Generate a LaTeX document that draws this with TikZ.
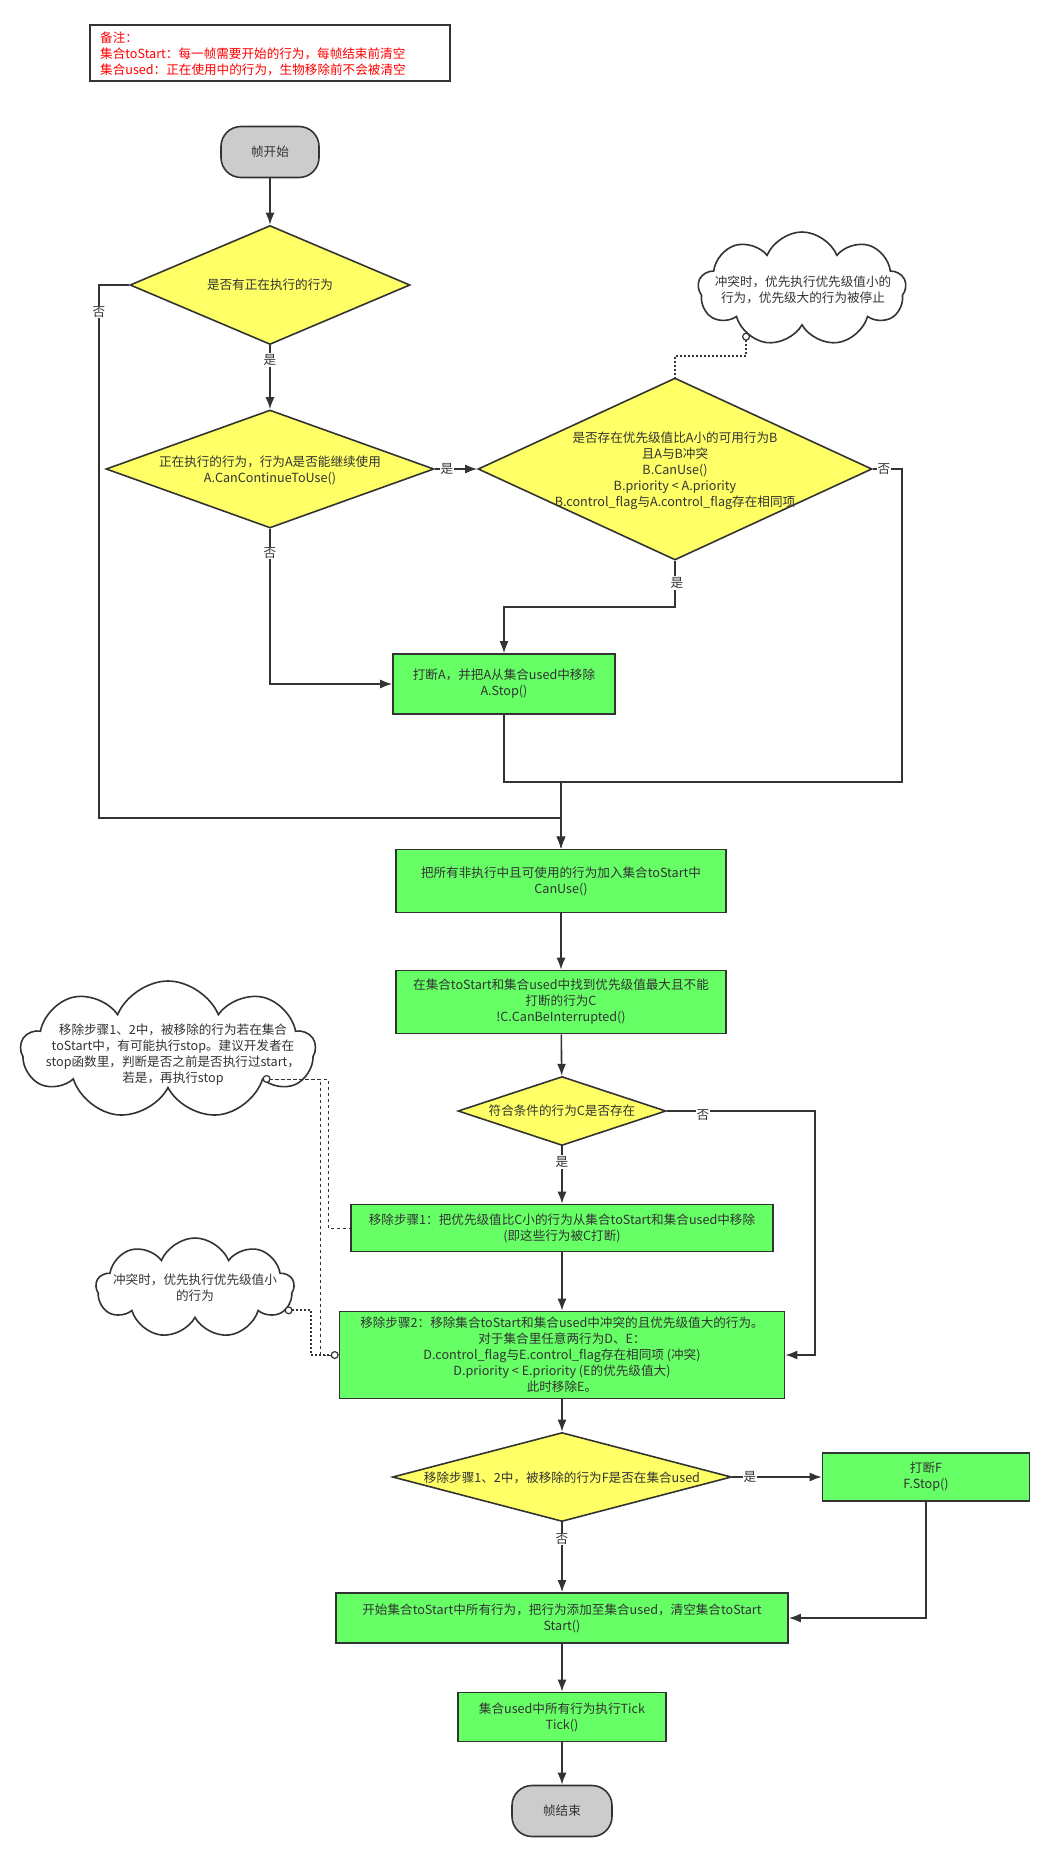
\documentclass[tikz,border=0pt]{standalone}
\usepackage{fontspec}
\setmainfont{Noto Sans CJK SC}
\usetikzlibrary{shapes.geometric,shapes.symbols,arrows.meta}
\definecolor{lc}{HTML}{333333}
\definecolor{tc}{HTML}{333333}
\definecolor{yfill}{HTML}{FFFF66}
\definecolor{gfill}{HTML}{66FF66}
\definecolor{sfill}{HTML}{CCCCCC}
\definecolor{nred}{HTML}{FF0000}
\newcommand\fsz{\fontsize{12.6}{16}\selectfont}
\begin{document}
\begin{tikzpicture}[x=1pt,y=-1pt,
  every node/.style={font=\fsz, text=tc},
  proc/.style={draw=lc, line width=1.6pt, fill=gfill, rectangle, inner sep=0pt, align=center},
  term/.style={draw=lc, line width=1.6pt, fill=sfill, rectangle, rounded corners=20pt, inner sep=0pt, align=center},
  dec/.style={draw=lc, line width=1.6pt, fill=yfill, diamond, inner sep=0pt},
  txt/.style={align=center, inner sep=0pt},
  conn/.style={draw=lc, line width=1.6pt, -{Latex[length=12pt,width=9pt]}},
  lbl/.style={fill=white, inner sep=1pt},
  thought/.style={draw=lc, line width=1.6pt, fill=white, cloud, cloud puffs=9, cloud puff arc=135, cloud ignores aspect, inner sep=0pt, outer sep=0pt},
  ctip/.tip={Circle[length=8pt,width=8pt,fill=white,line width=1.2pt]},
  dotc/.style={draw=lc, line width=2pt, dash pattern=on 2pt off 2pt},
  dashc/.style={draw=lc, line width=0.8pt, dash pattern=on 3pt off 3pt},
]
\path[use as bounding box, fill=white] (0,0) rectangle (1055,1861);

% note
\node[draw=lc, line width=1.8pt, minimum width=360, minimum height=56, inner sep=0pt] (note) at (270,53) {};
\node[anchor=west, align=left, text=nred, inner sep=0pt] (notet) at (100,54) {备注：\\集合toStart：每一帧需要开始的行为，每帧结束前清空\\集合used：正在使用中的行为，生物移除前不会被清空};

% nodes
\node[term, minimum width=98, minimum height=51] (S) at (270,152) {帧开始};
\node[dec, minimum width=280, minimum height=119] (D1) at (270,285) {};
\node[txt] (D1t) at (270,285) {是否有正在执行的行为};
\node[dec, minimum width=328, minimum height=118] (D2) at (270,469) {};
\node[txt] (D2t) at (270,470) {正在执行的行为，行为A是否能继续使用\\A.CanContinueToUse()};
\node[dec, minimum width=394, minimum height=182] (D3) at (675,469) {};
\node[txt] (D3t) at (675,471) {是否存在优先级值比A小的可用行为B\\且A与B冲突\\B.CanUse()\\B.priority < A.priority\\B.control\_flag与A.control\_flag存在相同项};
\node[proc, minimum width=222, minimum height=60] (A) at (504,684) {打断A，并把A从集合used中移除\\A.Stop()};
\node[proc, minimum width=330, minimum height=63] (B) at (561,881) {把所有非执行中且可使用的行为加入集合toStart中\\CanUse()};
\node[proc, minimum width=330, minimum height=63] (C) at (561,1002) {在集合toStart和集合used中找到优先级值最大且不能\\打断的行为C\\!C.CanBeInterrupted()};
\node[dec, minimum width=208, minimum height=69] (D4) at (562,1111) {};
\node[txt] (D4t) at (562,1111) {符合条件的行为C是否存在};
\node[proc, minimum width=422, minimum height=47] (Dx) at (562,1228) {移除步骤1：把优先级值比C小的行为从集合toStart和集合used中移除\\(即这些行为被C打断)};
\node[proc, minimum width=445, minimum height=87] (E) at (562,1355) {移除步骤2：移除集合toStart和集合used中冲突的且优先级值大的行为。\\对于集合里任意两行为D、E：\\D.control\_flag与E.control\_flag存在相同项 (冲突)\\D.priority < E.priority (E的优先级值大)\\此时移除E。};
\node[dec, minimum width=339, minimum height=89] (D5) at (562,1477) {};
\node[txt] (D5t) at (562,1478) {移除步骤1、2中，被移除的行为F是否在集合used};
\node[proc, minimum width=207, minimum height=48] (F) at (926,1477) {打断F\\F.Stop()};
\node[proc, minimum width=452, minimum height=50] (G) at (562,1618) {开始集合toStart中所有行为，把行为添加至集合used，清空集合toStart\\Start()};
\node[proc, minimum width=208, minimum height=49] (H) at (562,1717) {集合used中所有行为执行Tick\\Tick()};
\node[term, minimum width=100, minimum height=51] (End) at (562,1811) {帧结束};

% clouds
\node[thought, minimum width=208, minimum height=114] (K1) at (802,289) {};
\node[txt] (K1t) at (803,290) {冲突时，优先执行优先级值小的\\行为，优先级大的行为被停止};
\node[thought, minimum width=294, minimum height=138] (K2) at (168,1050) {};
\node[txt] (K2t) at (173,1055) {移除步骤1、2中，被移除的行为若在集合\\toStart中，有可能执行stop。建议开发者在\\stop函数里，判断是否之前是否执行过start，\\若是，再执行stop};
\node[thought, minimum width=198, minimum height=100] (K3) at (195,1288) {};
\node[txt] (K3t) at (195,1288) {冲突时，优先执行优先级值小\\的行为};
\coordinate (k1c) at (K1.-142);
\coordinate (k2c) at (K2.-17);
\coordinate (k3c) at (K3.-14);

% junctions
\coordinate (m1) at (561,782);
\coordinate (m2) at (561,818);
\coordinate (m3) at (675,356);

% connectors
\draw[conn] (S) -- (D1);
\draw[conn] (D1) -- (D2);
\draw[conn] (D1.west) -- (99,285) |- (m2) -- (B.north);
\draw[conn] (D2.east) -- (D3.west);
\draw[conn] (D2.south) |- (A.west);
\draw[conn] (D3.south) -- (675,607) -| (A.north);
\draw[conn] (D3.east) -- (902,469) |- (m1) -- (B.north);
\draw[conn] (A.south) |- (m1) -- (B.north);
\draw[conn] (B) -- (C);
\draw[conn] (C) -- (D4);
\draw[conn] (D4) -- (Dx);
\draw[conn] (D4.east) -- (815,1111) |- (E.east);
\draw[conn] (Dx) -- (E);
\draw[conn] (E) -- (D5);
\draw[conn] (D5) -- (F);
\draw[conn] (D5) -- (G);
\draw[conn] (F.south) |- (G.east);
\draw[conn] (G) -- (H);
\draw[conn] (H) -- (End);

% note connectors
\draw[dotc, ctip-] (k1c) |- (m3) -- (D3.north);
\draw[dashc] (k2c) -| (320,1355) -- (E.west);
\draw[dashc, ctip-] (k2c) -| (328,1228) -- (Dx.west);
\draw[dotc, ctip-ctip] (k3c) -| (311,1355) -- (E.west);

% labels
\node[lbl] (l1) at (99,312) {否};
\node[lbl] (l2) at (270,360) {是};
\node[lbl] (l3) at (447,469) {是};
\node[lbl] (l4) at (270,553) {否};
\node[lbl] (l5) at (677,583) {是};
\node[lbl] (l6) at (884,469) {否};
\node[lbl] (l7) at (703,1115) {否};
\node[lbl] (l8) at (562,1162) {是};
\node[lbl] (l9) at (750,1477) {是};
\node[lbl] (l10) at (562,1539) {否};
\end{tikzpicture}
\end{document}
